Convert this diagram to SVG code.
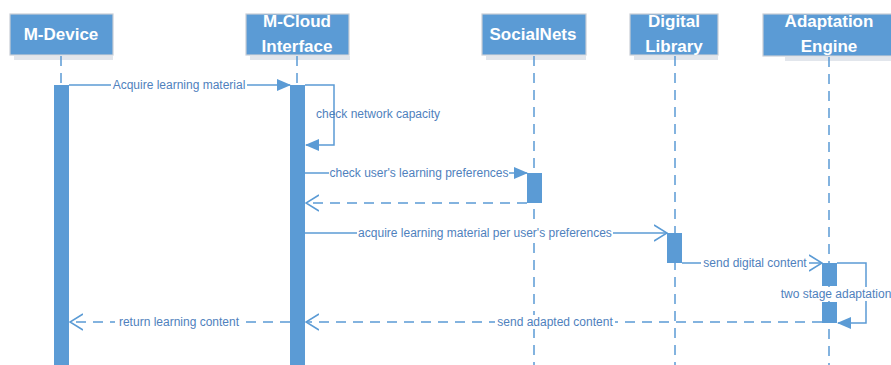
<svg xmlns="http://www.w3.org/2000/svg" width="891" height="365" viewBox="0 0 891 365">
<defs>
<style>
.box{fill:#5B9BD5;stroke:#C9CED6;stroke-width:1.2}
.shadow{fill:#D6DCE4;opacity:0.7}
.title{font-family:"Liberation Sans",Arial,sans-serif;font-weight:bold;font-size:17px;fill:#FFFFFF;text-anchor:middle}
.life{stroke:#5B9BD5;stroke-width:1.5;stroke-dasharray:10 7;fill:none}
.bar{fill:#5B9BD5}
.msg{stroke:#5B9BD5;stroke-width:1.5;fill:none}
.dash{stroke:#5B9BD5;stroke-width:1.5;fill:none;stroke-dasharray:10 7}
.bg{fill:#FFFFFF}
.lbl{font-family:"Liberation Sans",Arial,sans-serif;font-size:12px;fill:#4F81BD;text-anchor:middle}
</style>
<marker id="filled" viewBox="0 0 14 12" refX="13" refY="6" markerWidth="14" markerHeight="12" markerUnits="userSpaceOnUse" orient="auto">
<path d="M0,0 L14,6 L0,12 Z" fill="#5B9BD5"/>
</marker>
<marker id="open" viewBox="0 0 14 18" refX="13" refY="9" markerWidth="14" markerHeight="18" markerUnits="userSpaceOnUse" orient="auto">
<path d="M0,1 L13,9 L0,17" fill="none" stroke="#5B9BD5" stroke-width="1.5"/>
</marker>
</defs>
<rect width="891" height="365" fill="#FFFFFF"/>

<g id="node-mdevice">
<rect class="shadow" x="14" y="56" width="99" height="4"/>
<rect class="box" x="10" y="14" width="103" height="41"/>
<text class="title" x="61" y="40">M-Device</text>
<path class="life" d="M61,56 V85"/>
<rect class="bar" x="54" y="85" width="15" height="280"/>
</g>

<g id="node-mcloud">
<rect class="shadow" x="250" y="56" width="100" height="4"/>
<rect class="box" x="246" y="14" width="103" height="41"/>
<text class="title" x="297" y="27">M-Cloud</text>
<text class="title" x="297" y="52">Interface</text>
<path class="life" d="M297,56 V85"/>
<rect class="bar" x="290" y="85" width="15" height="280"/>
</g>

<g id="node-socialnets">
<rect class="shadow" x="486" y="56" width="100" height="4"/>
<rect class="box" x="482" y="14" width="104" height="41"/>
<text class="title" x="533" y="40">SocialNets</text>
<path class="life" d="M534,56 V365"/>
<rect class="bar" x="527" y="173" width="15" height="30"/>
</g>

<g id="node-digitallibrary">
<rect class="shadow" x="634" y="56" width="84" height="4"/>
<rect class="box" x="630" y="14" width="88" height="41"/>
<text class="title" x="674" y="27">Digital</text>
<text class="title" x="674" y="52">Library</text>
<path class="life" d="M675,56 V365"/>
<rect class="bar" x="667" y="233" width="15" height="30"/>
</g>

<g id="node-adaptation">
<rect class="shadow" x="785" y="57" width="106" height="4"/>
<rect class="box" x="763" y="14" width="133" height="42"/>
<text class="title" x="829" y="27">Adaptation</text>
<text class="title" x="829" y="52">Engine</text>
<path class="life" d="M829,57 V365"/>
<rect class="bar" x="822" y="263" width="15" height="23"/>
<rect class="bar" x="822" y="302" width="15" height="21"/>
</g>

<g id="connectors">
<path class="msg" d="M69,85 H290" marker-end="url(#filled)"/>
<rect class="bg" x="111" y="78" width="136" height="14"/>
<text class="lbl" x="179" y="89">Acquire learning material</text>

<path class="msg" d="M305,85 H334 V145 H306" marker-end="url(#filled)"/>
<text class="lbl" x="378" y="118">check network capacity</text>

<path class="msg" d="M305,173 H527" marker-end="url(#filled)"/>
<rect class="bg" x="329" y="166" width="180" height="14"/>
<text class="lbl" x="419" y="177">check user's learning preferences</text>

<path class="dash" d="M527,203 H306" marker-end="url(#open)"/>

<path class="msg" d="M305,233 H667" marker-end="url(#open)"/>
<rect class="bg" x="357" y="226" width="256" height="14"/>
<text class="lbl" x="485" y="237">acquire learning material per user's preferences</text>

<path class="msg" d="M682,263 H822" marker-end="url(#open)"/>
<rect class="bg" x="701" y="256" width="108" height="14"/>
<text class="lbl" x="755" y="267">send digital content</text>

<path class="msg" d="M837,263 H866 V323 H838" marker-end="url(#filled)"/>
<rect class="bg" x="779" y="287" width="112" height="14"/>
<text class="lbl" x="836" y="298">two stage adaptation</text>

<path class="dash" d="M822,322 H306" marker-end="url(#open)"/>
<rect class="bg" x="495" y="315" width="120" height="14"/>
<text class="lbl" x="555" y="326">send adapted content</text>

<path class="dash" d="M290,322 H70" marker-end="url(#open)"/>
<rect class="bg" x="115" y="315" width="128" height="14"/>
<text class="lbl" x="179" y="326">return learning content</text>
</g>
</svg>
